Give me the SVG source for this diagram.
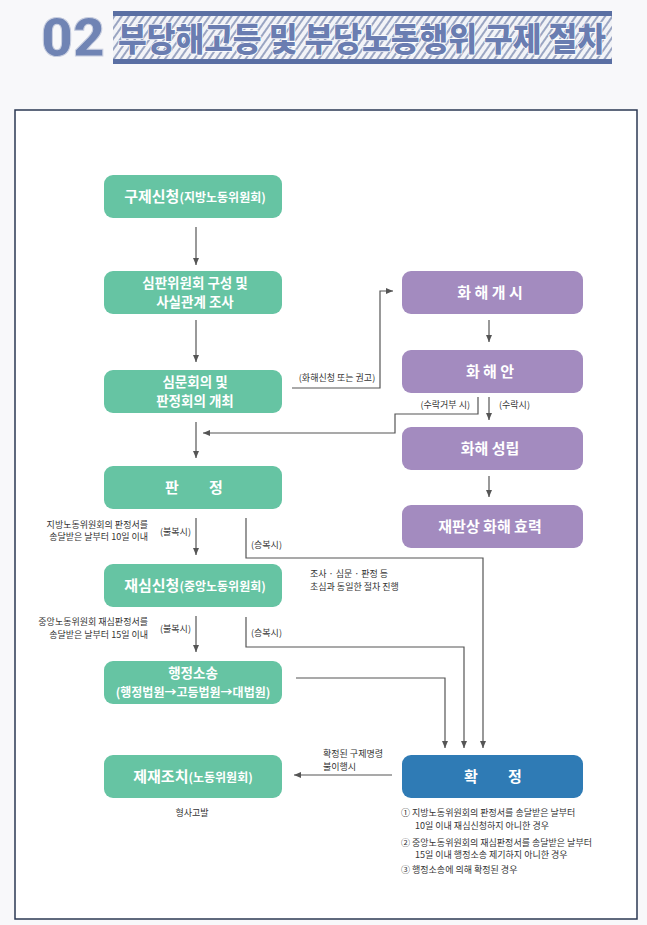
<svg xmlns="http://www.w3.org/2000/svg" width="647" height="925" viewBox="0 0 647 925">
<defs>
<style>
.g{fill:#66c4a3}
.p{fill:#a38bbf}
.b{fill:#2f7bb5}
.bt{font-family:"Noto Sans CJK KR","Noto Sans",sans-serif;font-weight:bold;fill:#fff;text-anchor:middle}
.s{font-family:"Noto Sans CJK KR","Noto Sans",sans-serif;font-size:9px;fill:#333}
.c{fill:none;stroke:#555;stroke-width:1.2}
</style>
<marker id="ah" markerUnits="userSpaceOnUse" markerWidth="8" markerHeight="8" refX="7" refY="3" orient="auto">
<path d="M0,0 L7,3 L0,6 z" fill="#555"/>
</marker>
<pattern id="hatch" patternUnits="userSpaceOnUse" width="6" height="6" patternTransform="rotate(35)">
<rect width="6" height="6" fill="#f2f3f7"/>
<rect width="2" height="6" fill="#9aa5c2"/>
</pattern>
</defs>
<rect width="647" height="925" fill="#f8f8fa"/>
<g id="title">
<text x="41" y="56" font-family="Roboto,'Noto Sans',sans-serif" font-weight="900" font-size="54" fill="#7084b4" stroke="#c9cfe0" stroke-width="1" textLength="64" lengthAdjust="spacingAndGlyphs">02</text>
<rect x="113" y="14" width="499" height="48" fill="url(#hatch)"/>
<rect x="113" y="11" width="499" height="5" fill="#5a6fa3"/>
<rect x="113" y="59" width="499" height="5" fill="#5a6fa3"/>
<text x="118" y="51" font-family="'Noto Sans CJK KR',sans-serif" font-weight="900" font-size="33" fill="#6a7db1" stroke="#ffffff" stroke-width="1.5" paint-order="stroke" textLength="488" lengthAdjust="spacingAndGlyphs">부당해고등 및 부당노동행위 구제 절차</text>
</g>
<rect x="15" y="110" width="622" height="809" fill="#ffffff" stroke="#2b3853" stroke-width="1.5"/>

<g id="connectors">
<path class="c" d="M196,227 V265" marker-end="url(#ah)"/>
<path class="c" d="M196,320 V362" marker-end="url(#ah)"/>
<path class="c" d="M196,422 V458" marker-end="url(#ah)"/>
<path class="c" d="M478,397 V414 H395 V433 H203" marker-end="url(#ah)"/>
<path class="c" d="M292,388 H380 V291 H393" marker-end="url(#ah)"/>
<path class="c" d="M489,320 V342" marker-end="url(#ah)"/>
<path class="c" d="M489,397 V420" marker-end="url(#ah)"/>
<path class="c" d="M489,476 V497" marker-end="url(#ah)"/>
<path class="c" d="M196,518 V555" marker-end="url(#ah)"/>
<path class="c" d="M196,616 V652" marker-end="url(#ah)"/>
<path class="c" d="M246,518 V558 H483 V748" marker-end="url(#ah)"/>
<path class="c" d="M246,617 V647 H464 V748" marker-end="url(#ah)"/>
<path class="c" d="M296,678 H445 V748" marker-end="url(#ah)"/>
<path class="c" d="M392,775 H294" marker-end="url(#ah)"/>
</g>

<g id="labels">
<text class="s" x="337" y="381" text-anchor="middle">(화해신청 또는 권고)</text>
<text class="s" x="470" y="408" text-anchor="end">(수락거부 시)</text>
<text class="s" x="499" y="408">(수락시)</text>
<text class="s" x="148" y="528" text-anchor="end">지방노동위원회의 판정서를</text>
<text class="s" x="148" y="540" text-anchor="end">송달받은 날부터 10일 이내</text>
<text class="s" x="160" y="535">(불복시)</text>
<text class="s" x="251" y="548">(승복시)</text>
<text class="s" x="310" y="577">조사 · 심문 · 판정 등</text>
<text class="s" x="310" y="590">초심과 동일한 절차 진행</text>
<text class="s" x="148" y="625" text-anchor="end">중앙노동위원회 재심판정서를</text>
<text class="s" x="148" y="638" text-anchor="end">송달받은 날부터 15일 이내</text>
<text class="s" x="160" y="632">(불복시)</text>
<text class="s" x="251" y="636">(승복시)</text>
<text class="s" x="323" y="757">확정된 구제명령</text>
<text class="s" x="323" y="770">불이행시</text>
<text class="s" x="192" y="816" text-anchor="middle">형사고발</text>
<text class="s" x="401" y="816">① 지방노동위원회의 판정서를 송달받은 날부터</text>
<text class="s" x="415" y="829">10일 이내 재심신청하지 아니한 경우</text>
<text class="s" x="401" y="846">② 중앙노동위원회의 재심판정서를 송달받은 날부터</text>
<text class="s" x="415" y="858">15일 이내 행정소송 제기하지 아니한 경우</text>
<text class="s" x="401" y="873">③ 행정소송에 의해 확정된 경우</text>
</g>

<g id="n1">
<rect class="g" x="104" y="175" width="178" height="43" rx="9"/>
<text class="bt" x="195" y="202"><tspan font-size="15">구제신청</tspan><tspan font-size="12">(지방노동위원회)</tspan></text>
</g>
<g id="n2">
<rect class="g" x="104" y="271" width="178" height="43" rx="9"/>
<text class="bt" x="195" y="288" font-size="13.5">심판위원회 구성 및</text>
<text class="bt" x="195" y="307" font-size="13.5">사실관계 조사</text>
</g>
<g id="n3">
<rect class="g" x="104" y="370" width="178" height="43" rx="9"/>
<text class="bt" x="195" y="387" font-size="13.5">심문회의 및</text>
<text class="bt" x="195" y="406" font-size="13.5">판정회의 개최</text>
</g>
<g id="n4">
<rect class="g" x="104" y="466" width="178" height="43" rx="9"/>
<text class="bt" x="172" y="493" font-size="15">판</text>
<text class="bt" x="216" y="493" font-size="15">정</text>
</g>
<g id="n5">
<rect class="g" x="104" y="564" width="178" height="43" rx="9"/>
<text class="bt" x="195" y="591"><tspan font-size="15">재심신청</tspan><tspan font-size="12">(중앙노동위원회)</tspan></text>
</g>
<g id="n6">
<rect class="g" x="104" y="661" width="178" height="43" rx="9"/>
<text class="bt" x="193" y="678" font-size="13.5">행정소송</text>
<text class="bt" x="193" y="697" font-size="12">(행정법원→고등법원→대법원)</text>
</g>
<g id="n7">
<rect class="g" x="104" y="755" width="178" height="43" rx="9"/>
<text class="bt" x="193" y="782"><tspan font-size="15">제재조치</tspan><tspan font-size="12">(노동위원회)</tspan></text>
</g>
<g id="m1">
<rect class="p" x="402" y="271" width="181" height="43" rx="9"/>
<text class="bt" x="490" y="298" font-size="15">화 해 개 시</text>
</g>
<g id="m2">
<rect class="p" x="402" y="350" width="181" height="43" rx="9"/>
<text class="bt" x="490" y="377" font-size="15">화 해 안</text>
</g>
<g id="m3">
<rect class="p" x="402" y="427" width="181" height="43" rx="9"/>
<text class="bt" x="490" y="454" font-size="15">화해 성립</text>
</g>
<g id="m4">
<rect class="p" x="402" y="505" width="181" height="43" rx="9"/>
<text class="bt" x="490" y="532" font-size="15">재판상 화해 효력</text>
</g>
<g id="k1">
<rect class="b" x="402" y="755" width="181" height="43" rx="9"/>
<text class="bt" x="471" y="782" font-size="15">확</text>
<text class="bt" x="515" y="782" font-size="15">정</text>
</g>
</svg>
